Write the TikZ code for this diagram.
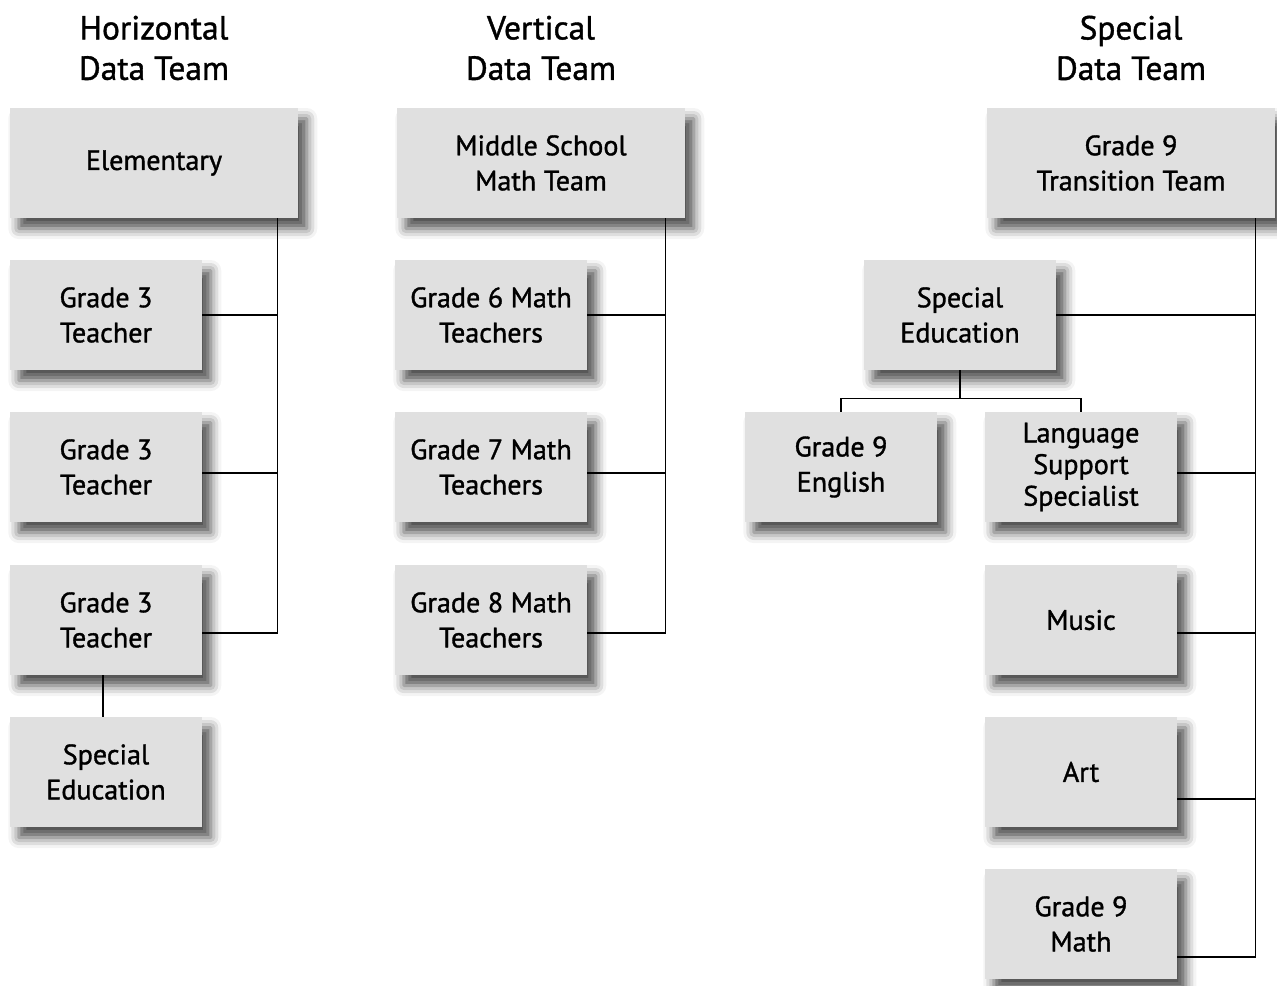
\documentclass[tikz,border=0pt]{standalone}
\usepackage{fontspec}
\setmainfont{PT Sans}[FakeBold=1.2]
\usetikzlibrary{shadows.blur}

\definecolor{boxgray}{RGB}{224,224,224}

\tikzset{
	box/.style={fill=boxgray, align=center, inner sep=0pt,
		minimum width=3.84cm, minimum height=2.2cm,
		font=\fontsize{16}{20}\selectfont,
		blur shadow={shadow xshift=5pt, shadow yshift=-6pt, shadow blur radius=6pt, shadow opacity=70}},
	widebox/.style={box, minimum width=5.76cm},
	title/.style={align=center, font=\fontsize{19}{23}\selectfont},
	link/.style={line width=0.7pt}
}

\begin{document}
\begin{tikzpicture}[x=0.02cm, y=-0.02cm]
	\useasboundingbox (0, 0) rectangle (1277, 986);

	% titles
	\node [title] (thor) at (154, 48) {Horizontal\\Data Team};
	\node [title] (tver) at (541, 48) {Vertical\\Data Team};
	\node [title] (tspe) at (1131, 48) {Special\\Data Team};

	% horizontal team
	\node [widebox] (elem) at (154, 163) {Elementary};
	\node [box] (gta) at (106, 315) {Grade 3\\Teacher};
	\node [box] (gtb) at (106, 467) {Grade 3\\Teacher};
	\node [box] (gtc) at (106, 620) {Grade 3\\Teacher};
	\node [box] (hsped) at (106, 772) {Special\\Education};

	\draw [link] (gta.east) -| ([xshift=-0.42cm]elem.south east);
	\draw [link] ([yshift=-0.12cm]gtb.east) -| ([xshift=-0.42cm]elem.south east);
	\draw [link] ([yshift=-0.26cm]gtc.east) -| ([xshift=-0.42cm]elem.south east);
	\draw [link] ([xshift=-0.06cm]gtc.south) -- ([xshift=-0.06cm]hsped.north);

	% vertical team
	\node [widebox] (msmath) at (541, 163) {Middle School\\Math Team};
	\node [box] (gsix) at (491, 315) {Grade 6 Math\\Teachers};
	\node [box] (gseven) at (491, 467) {Grade 7 Math\\Teachers};
	\node [box] (geight) at (491, 620) {Grade 8 Math\\Teachers};

	\draw [link] (gsix.east) -| ([xshift=-0.4cm]msmath.south east);
	\draw [link] ([yshift=-0.12cm]gseven.east) -| ([xshift=-0.4cm]msmath.south east);
	\draw [link] ([yshift=-0.26cm]geight.east) -| ([xshift=-0.4cm]msmath.south east);

	% special team
	\node [widebox] (trans) at (1131, 163) {Grade 9\\Transition Team};
	\node [box] (ssped) at (960, 315) {Special\\Education};
	\node [box] (eng) at (841, 467) {Grade 9\\English};
	\node [box, font=\fontsize{16}{18}\selectfont] (lss) at (1081, 467) {Language\\Support\\Specialist};
	\node [box] (music) at (1081, 620) {Music};
	\node [box] (art) at (1081, 772) {Art};
	\node [box] (mnine) at (1081, 924) {Grade 9\\Math};

	\draw [link] (ssped.east) -| ([xshift=-0.4cm]trans.south east);
	\draw [link] ([yshift=-0.12cm]lss.east) -| ([xshift=-0.4cm]trans.south east);
	\draw [link] ([yshift=-0.26cm]music.east) -| ([xshift=-0.4cm]trans.south east);
	\draw [link] ([yshift=-0.54cm]art.east) -| ([xshift=-0.4cm]trans.south east);
	\draw [link] ([yshift=-0.66cm]mnine.east) -| ([xshift=-0.4cm]trans.south east);
	\draw [link] (ssped.south) -- ++(0, 28) -| (eng.north);
	\draw [link] (ssped.south) -- ++(0, 28) -| (lss.north);
\end{tikzpicture}
\end{document}
